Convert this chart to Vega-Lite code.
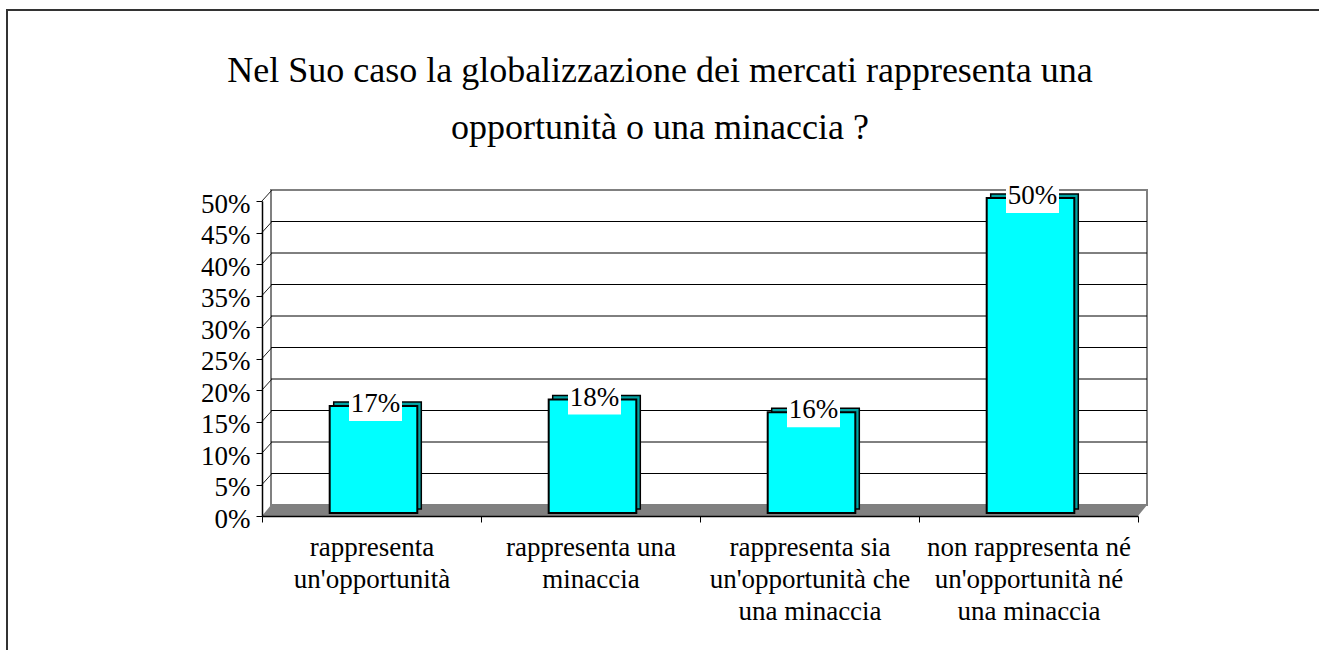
{
  "$schema": "https://vega.github.io/schema/vega-lite/v6.json",
  "autosize": "none",
  "width": 1330,
  "height": 660,
  "padding": {"left": 7, "top": 10, "right": 0, "bottom": 0},
  "background": "#ffffff",
  "config": {
    "view": {"stroke": "#333333", "strokeWidth": 2},
    "font": "Liberation Serif",
    "axis": {"labelFont": "Liberation Serif", "labelColor": "#000000"}
  },
  "title": {
    "text": ["Nel Suo caso la globalizzazione dei mercati rappresenta una", "opportunità o una minaccia ?"],
    "font": "Liberation Serif",
    "fontSize": 36,
    "fontWeight": "normal",
    "color": "#000000",
    "anchor": "middle",
    "frame": "group",
    "orient": "top",
    "baseline": "alphabetic",
    "lineHeight": 57,
    "offset": -165,
    "dx": -12
  },
  "datasets": {
    "risposte": [
      {"risposta": "rappresenta\nun'opportunità", "quota": 0.17},
      {"risposta": "rappresenta una\nminaccia", "quota": 0.18},
      {"risposta": "rappresenta sia\nun'opportunità che\nuna minaccia", "quota": 0.16},
      {"risposta": "non rappresenta né\nun'opportunità né\nuna minaccia", "quota": 0.50}
    ],
    "livelli": [
      {"livello": 0.05}, {"livello": 0.10}, {"livello": 0.15}, {"livello": 0.20}, {"livello": 0.25},
      {"livello": 0.30}, {"livello": 0.35}, {"livello": 0.40}, {"livello": 0.45}, {"livello": 0.50}
    ]
  },
  "layer": [
    {
      "layer": [
        {
          "data": {"values": [{}]},
          "mark": {"type": "rect", "fill": "#ffffff", "stroke": "#808080", "strokeWidth": 2, "xOffset": 9, "x2Offset": 9, "yOffset": -11, "y2Offset": -11},
          "encoding": {
            "x": {"datum": 0, "type": "quantitative", "scale": {"domain": [0, 1], "range": [255, 1131], "nice": false, "zero": false}, "axis": null},
            "x2": {"datum": 1},
            "y": {"datum": 0, "type": "quantitative"},
            "y2": {"datum": 0.5}
          }
        },
        {
          "data": {"name": "livelli"},
          "transform": [{"filter": "datum.livello < 0.5"}],
          "mark": {"type": "rule", "stroke": "#000000", "strokeWidth": 1, "xOffset": 9, "x2Offset": 9, "yOffset": -11},
          "encoding": {
            "x": {"datum": 0, "type": "quantitative"},
            "x2": {"datum": 1},
            "y": {"field": "livello", "type": "quantitative"}
          }
        },
        {
          "data": {"name": "livelli"},
          "mark": {"type": "rule", "stroke": "#202020", "strokeWidth": 1, "x2Offset": 10, "y2Offset": -11},
          "encoding": {
            "x": {"datum": 0, "type": "quantitative"},
            "x2": {"datum": 0},
            "y": {"field": "livello", "type": "quantitative"},
            "y2": {"field": "livello"}
          }
        },
        {
          "data": {"values": [{}]},
          "mark": {"type": "point", "shape": "M-4.38,0L4.38,0L4.47,-0.11L-4.29,-0.11Z", "size": 40000, "filled": true, "fill": "#808080", "opacity": 1, "strokeWidth": 0},
          "encoding": {
            "x": {"datum": 0.5, "type": "quantitative"},
            "y": {"datum": 0, "type": "quantitative"}
          }
        }
      ]
    },
    {
      "data": {"name": "risposte"},
      "encoding": {
        "x": {
          "field": "risposta",
          "type": "nominal",
          "sort": null,
          "scale": {"range": [255, 1131], "paddingInner": 0, "paddingOuter": 0},
          "axis": {
            "title": null,
            "orient": "bottom",
            "offset": -154,
            "labelExpr": "split(datum.label, '\\n')",
            "labelFontSize": 27,
            "labelLineHeight": 32,
            "labelAngle": 0,
            "labelAlign": "center",
            "labelBaseline": "top",
            "labelPadding": 12,
            "labelLimit": 600,
            "labelOverlap": false,
            "tickBand": "extent",
            "tickSize": 6,
            "tickColor": "#000000",
            "tickWidth": 1,
            "domainColor": "#000000",
            "domainWidth": 1.5,
            "grid": false,
            "zindex": 2
          }
        },
        "y": {
          "field": "quota",
          "type": "quantitative",
          "scale": {"domain": [0, 0.5], "range": [506, 191], "nice": false, "zero": true},
          "axis": {
            "title": null,
            "orient": "left",
            "offset": -255,
            "values": [0, 0.05, 0.1, 0.15, 0.2, 0.25, 0.3, 0.35, 0.4, 0.45, 0.5],
            "format": ".0%",
            "labelFontSize": 27,
            "labelPadding": 6,
            "labelOffset": 3,
            "labelOverlap": false,
            "tickSize": 6,
            "tickColor": "#000000",
            "domainColor": "#000000",
            "domainWidth": 1.5,
            "grid": false,
            "zindex": 2
          }
        }
      },
      "layer": [
        {
          "mark": {"type": "bar", "width": {"band": 0.4}, "fill": "#00A3A3", "stroke": "#000000", "strokeWidth": 1.5, "xOffset": 6, "yOffset": -7, "y2Offset": -7},
          "encoding": {"y2": {"datum": 0}}
        },
        {
          "mark": {"type": "bar", "width": {"band": 0.4}, "fill": "#00FFFF", "stroke": "#000000", "strokeWidth": 2, "xOffset": 2, "yOffset": -3, "y2Offset": -3},
          "encoding": {"y2": {"datum": 0}}
        },
        {
          "mark": {"type": "point", "shape": "M-1,-0.547L1,-0.547L1,0.547L-1,0.547Z", "size": 2809, "filled": true, "fill": "#ffffff", "opacity": 1, "strokeWidth": 0, "xOffset": 4, "yOffset": -2.5}
        },
        {
          "mark": {"type": "text", "font": "Liberation Serif", "fontSize": 27, "color": "#000000", "align": "center", "baseline": "alphabetic", "xOffset": 4, "yOffset": 3},
          "encoding": {"text": {"field": "quota", "type": "quantitative", "format": ".0%"}}
        }
      ]
    }
  ],
  "resolve": {"scale": {"x": "independent"}}
}
